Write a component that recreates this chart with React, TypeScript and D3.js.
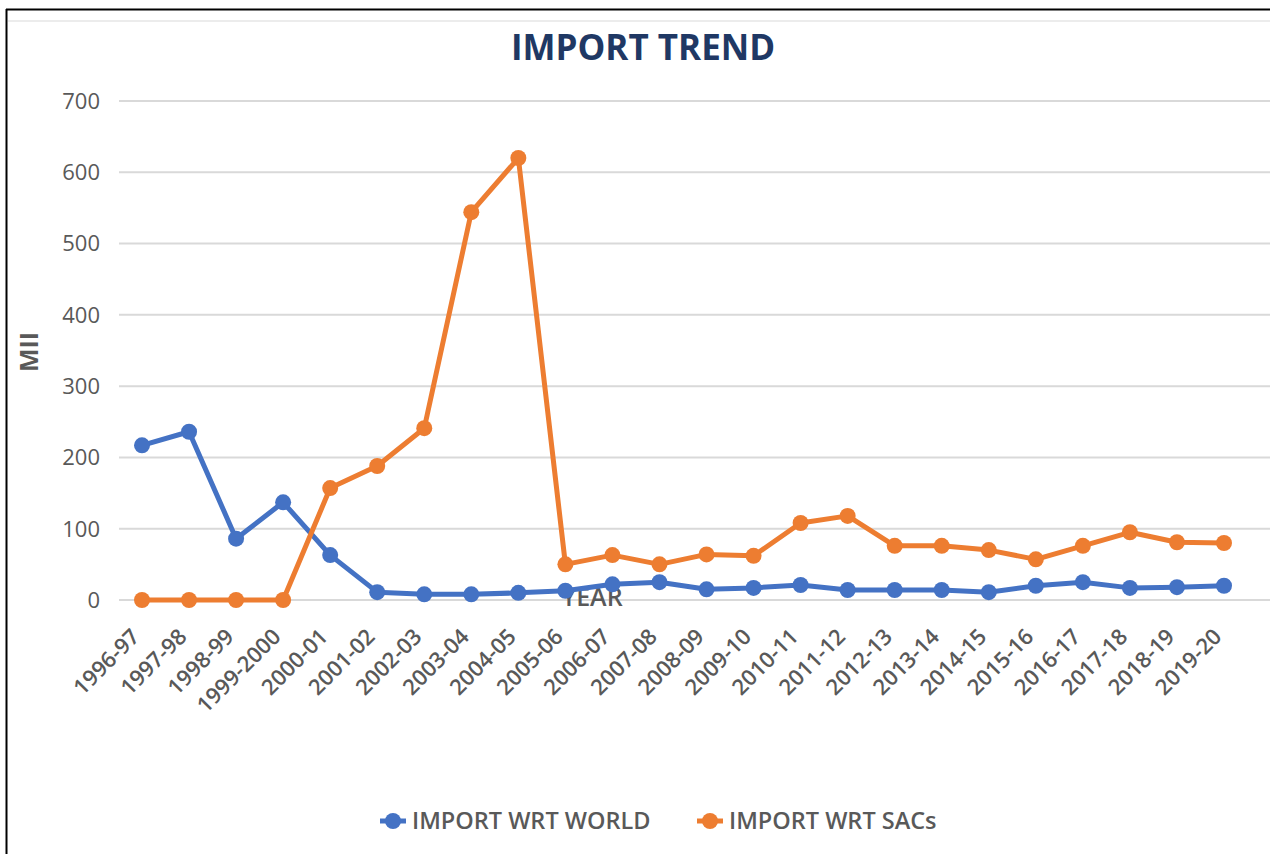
import React from "react";
import * as d3 from "d3";

const categories = [
  "1996-97", "1997-98", "1998-99", "1999-2000", "2000-01", "2001-02", "2002-03", "2003-04",
  "2004-05", "2005-06", "2006-07", "2007-08", "2008-09", "2009-10", "2010-11", "2011-12",
  "2012-13", "2013-14", "2014-15", "2015-16", "2016-17", "2017-18", "2018-19", "2019-20",
];
const importWorld = [217, 236, 86, 137, 63, 11, 8, 8, 10, 13, 22, 25, 15, 17, 21, 14, 14, 14, 11, 20, 25, 17, 18, 20];
const importSACs = [0, 0, 0, 0, 157, 188, 241, 544, 620, 50, 63, 50, 64, 62, 108, 118, 76, 76, 70, 57, 76, 95, 81, 80];
const yTicks = [0, 100, 200, 300, 400, 500, 600, 700];
const seriesNames = ["IMPORT WRT WORLD", "IMPORT WRT SACs"];
const seriesColors = ["#4472C4", "#ED7D31"];

const W = 1270;
const H = 854;
const FONT = "'Open Sans', sans-serif";
const GRAY = "#595959";

export default function App() {
  const x = d3.scalePoint<string>().domain(categories).range([142, 1224]);
  const y = d3.scaleLinear().domain([0, 700]).range([600, 101]);
  const line = d3
    .line<number>()
    .x((_, i) => x(categories[i]) as number)
    .y((d) => y(d));
  const series = [importWorld, importSACs];

  return (
    <svg
      width={W}
      height={H}
      style={{ position: "absolute", left: 0, top: 0, background: "#fff" }}
    >
      <rect x={0} y={0} width={W} height={H} fill="#fff" />
      {/* frame */}
      <line x1={6} y1={9.5} x2={W} y2={9.5} stroke="#000" strokeWidth={2} />
      <line x1={6.5} y1={9} x2={6.5} y2={H} stroke="#000" strokeWidth={2} />
      <line x1={8} y1={21} x2={W} y2={21} stroke="#ececec" strokeWidth={2} />

      {/* title */}
      <text
        x={643}
        y={60}
        textAnchor="middle"
        fontFamily={FONT}
        fontWeight={700}
        fontSize={35}
        fill="#1F3864"
      >
        IMPORT TREND
      </text>

      {/* gridlines and y ticks */}
      {yTicks.map((t) => (
        <g key={t}>
          <line x1={119} x2={W} y1={y(t)} y2={y(t)} stroke="#d9d9d9" strokeWidth={2} />
          <text
            x={100}
            y={y(t)}
            dy="0.36em"
            textAnchor="end"
            fontFamily={FONT}
            fontSize={22}
            fill={GRAY}
          >
            {t}
          </text>
        </g>
      ))}

      {/* y axis title */}
      <text
        transform={`translate(38,352) rotate(-90)`}
        textAnchor="middle"
        fontFamily={FONT}
        fontWeight={700}
        fontSize={25}
        fill={GRAY}
      >
        MII
      </text>

      {/* x axis title (overlapped by lines) */}
      <text
        x={592}
        y={606}
        textAnchor="middle"
        fontFamily={FONT}
        fontWeight={600}
        fontSize={25}
        fill={GRAY}
      >
        YEAR
      </text>

      {/* x tick labels */}
      {categories.map((c) => (
        <text
          key={c}
          transform={`translate(${(x(c) as number) - 1},${638}) rotate(-45)`}
          textAnchor="end"
          fontFamily={FONT}
          fontWeight={600}
          fontSize={22}
          fill={GRAY}
        >
          {c}
        </text>
      ))}

      {/* series */}
      {series.map((s, si) => (
        <g key={si}>
          <path d={line(s) || ""} fill="none" stroke={seriesColors[si]} strokeWidth={5} strokeLinejoin="round" />
          {s.map((v, i) => (
            <circle key={i} cx={x(categories[i]) as number} cy={y(v)} r={8} fill={seriesColors[si]} />
          ))}
        </g>
      ))}

      {/* legend */}
      {seriesNames.map((n, i) => {
        const lx = [380, 697][i];
        return (
          <g key={n}>
            <line x1={lx} x2={lx + 26} y1={821} y2={821} stroke={seriesColors[i]} strokeWidth={5} />
            <circle cx={lx + 13} cy={821} r={8} fill={seriesColors[i]} />
            <text
              x={lx + 32}
              y={821}
              dy="0.36em"
              fontFamily={FONT}
              fontWeight={600}
              fontSize={23.5}
              fill={GRAY}
            >
              {n}
            </text>
          </g>
        );
      })}
    </svg>
  );
}
